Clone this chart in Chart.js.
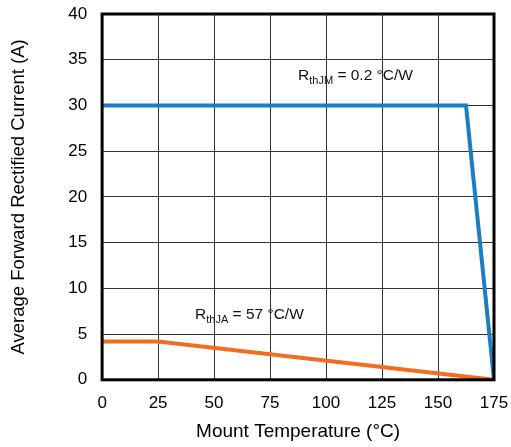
<!DOCTYPE html>
<html lang="en">
<head>
  <meta charset="UTF-8">
  <title>Derating</title>
  <script src="https://cdn.jsdelivr.net/npm/chart.js"></script>
  <style>
    html, body { margin: 0; padding: 0; background: #fff; }
    .container-chart { width: 511px; height: 447px; }
  </style>
</head>
<body>
  <div class="container-chart">
    <canvas id="myChart"></canvas>
  </div>

<script>
  // data
  const temp_jm = [0, 162.5, 175];
  const current_jm = [30, 30, 0];
  const temp_ja = [0, 25, 175];
  const current_ja = [4.2, 4.2, 0];

  const x_ticks = [0, 25, 50, 75, 100, 125, 150, 175];
  const y_ticks = [0, 5, 10, 15, 20, 25, 30, 35, 40];

  // label anchors in data units
  const labels = [
    { x: 87.5, y: 32.8, main: 'R', sub: 'thJM', rest: ' = 0.2 °C/W' },
    { x: 41.5, y: 6.7, main: 'R', sub: 'thJA', rest: ' = 57 °C/W' }
  ];

  const font = 'Liberation Sans, Arial, sans-serif';

  const frame = {
    id: 'frame',
    afterDatasetsDraw(chart) {
      const { ctx, chartArea: a, scales } = chart;
      ctx.save();
      ctx.strokeStyle = '#000';
      ctx.lineWidth = 3;
      ctx.strokeRect(a.left, a.top, a.right - a.left, a.bottom - a.top);

      ctx.fillStyle = '#111';
      ctx.textBaseline = 'alphabetic';
      labels.forEach(l => {
        let px = scales.x.getPixelForValue(l.x);
        const py = scales.y.getPixelForValue(l.y);
        ctx.font = '15.5px ' + font;
        ctx.fillText(l.main, px, py);
        px += ctx.measureText(l.main).width;
        ctx.font = '11px ' + font;
        ctx.fillText(l.sub, px, py + 4);
        px += ctx.measureText(l.sub).width;
        ctx.font = '15.5px ' + font;
        ctx.fillText(l.rest, px, py);
      });
      ctx.restore();
    }
  };

  new Chart(document.getElementById('myChart'), {
    type: 'line',
    data: {
      datasets: [
        {
          data: temp_jm.map((t, i) => ({ x: t, y: current_jm[i] })),
          borderColor: '#1b7dc4',
          borderWidth: 4,
          pointRadius: 0,
          tension: 0
        },
        {
          data: temp_ja.map((t, i) => ({ x: t, y: current_ja[i] })),
          borderColor: '#f26c22',
          borderWidth: 4,
          pointRadius: 0,
          tension: 0
        }
      ]
    },
    options: {
      responsive: true,
      maintainAspectRatio: false,
      animation: false,
      layout: { padding: { top: 14, right: 17, left: 8, bottom: 4 } },
      plugins: { legend: { display: false }, tooltip: { enabled: false } },
      scales: {
        x: {
          type: 'linear',
          min: 0,
          max: 175,
          afterBuildTicks: axis => { axis.ticks = x_ticks.map(v => ({ value: v })); },
          afterFit: axis => { axis.paddingRight = 0; },
          grid: { color: '#333', lineWidth: 1, drawTicks: false },
          border: { display: false },
          ticks: { color: '#000', font: { size: 17, family: font }, padding: 13, maxRotation: 0 },
          title: { display: true, text: 'Mount Temperature (°C)', color: '#000', font: { size: 19, family: font }, padding: { top: -6, bottom: 0 } }
        },
        y: {
          min: 0,
          max: 40,
          afterBuildTicks: axis => { axis.ticks = y_ticks.map(v => ({ value: v })); },
          afterFit: axis => { axis.paddingTop = 0; },
          grid: { color: '#333', lineWidth: 1, drawTicks: false },
          border: { display: false },
          ticks: { color: '#000', font: { size: 17, family: font }, padding: 15 },
          title: { display: true, text: 'Average Forward Rectified Current (A)', color: '#000', font: { size: 18.5, family: font }, padding: { top: 0, bottom: 23 } }
        }
      }
    },
    plugins: [frame]
  });
</script>
</body>
</html>
